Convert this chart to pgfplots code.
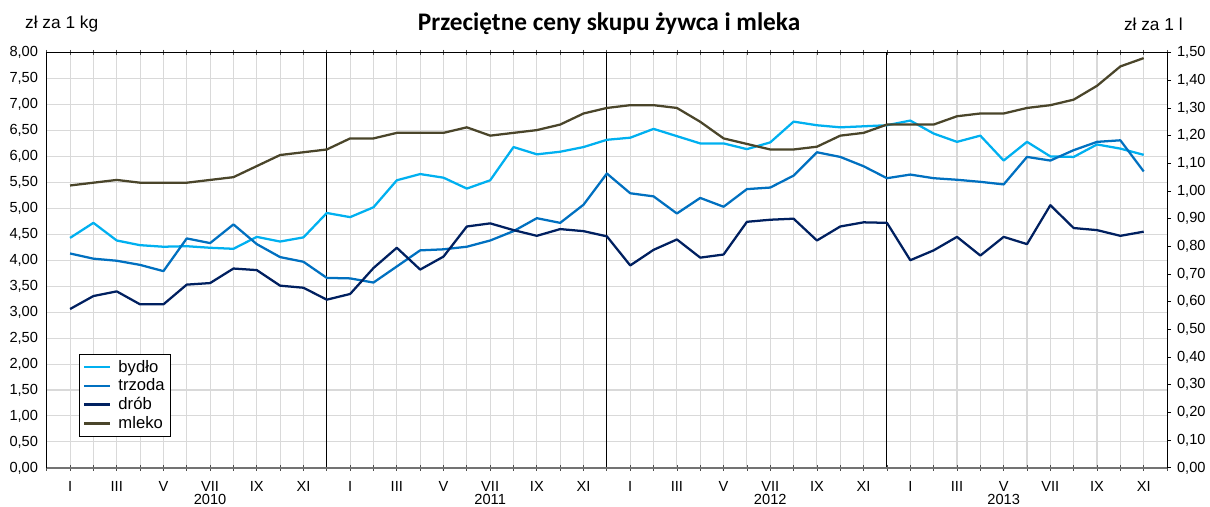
\documentclass[border=0pt]{standalone}
\usepackage{pgfplots}
\pgfplotsset{compat=1.18}
\usepackage{pgfplotstable}
\usepackage{fontspec}
\setmainfont{Liberation Sans}
\newfontfamily\titlefont{Carlito}
\definecolor{bydlo}{HTML}{00B0F0}
\definecolor{trzoda}{HTML}{0070C0}
\definecolor{drob}{HTML}{002060}
\definecolor{mleko}{HTML}{4A452A}
\definecolor{gridc}{HTML}{D9D9D9}

\pgfplotstableread{
k bydlo trzoda drob mleko
1 4.43 4.13 3.06 1.02
2 4.72 4.03 3.31 1.03
3 4.38 3.99 3.40 1.04
4 4.29 3.91 3.15 1.03
5 4.26 3.79 3.15 1.03
6 4.27 4.42 3.53 1.03
7 4.24 4.33 3.56 1.04
8 4.22 4.69 3.84 1.05
9 4.45 4.31 3.81 1.09
10 4.36 4.06 3.51 1.13
11 4.44 3.97 3.47 1.14
12 4.91 3.66 3.24 1.15
13 4.83 3.65 3.35 1.19
14 5.02 3.57 3.85 1.19
15 5.54 3.88 4.24 1.21
16 5.66 4.19 3.82 1.21
17 5.59 4.21 4.07 1.21
18 5.38 4.26 4.65 1.23
19 5.54 4.38 4.71 1.20
20 6.18 4.56 4.58 1.21
21 6.04 4.81 4.47 1.22
22 6.09 4.72 4.60 1.24
23 6.18 5.07 4.56 1.28
24 6.32 5.67 4.46 1.30
25 6.36 5.29 3.90 1.31
26 6.53 5.23 4.20 1.31
27 6.39 4.90 4.40 1.30
28 6.25 5.20 4.05 1.25
29 6.25 5.03 4.11 1.19
30 6.14 5.37 4.74 1.17
31 6.27 5.40 4.78 1.15
32 6.67 5.63 4.80 1.15
33 6.60 6.08 4.38 1.16
34 6.56 5.99 4.65 1.20
35 6.58 5.81 4.73 1.21
36 6.60 5.58 4.72 1.24
37 6.69 5.65 4.00 1.24
38 6.44 5.58 4.19 1.24
39 6.28 5.55 4.45 1.27
40 6.40 5.51 4.09 1.28
41 5.92 5.46 4.45 1.28
42 6.28 5.99 4.31 1.30
43 6.00 5.92 5.06 1.31
44 5.99 6.12 4.62 1.33
45 6.23 6.28 4.58 1.38
46 6.15 6.31 4.47 1.45
47 6.03 5.71 4.55 1.48
}\data

\begin{document}
\begin{tikzpicture}
\pgfplotsset{
  every axis/.append style={
    scale only axis, width=841.65pt, height=312pt,
    xmin=0, xmax=48,
    font=\fontsize{11}{13}\selectfont,
    /pgf/number format/fixed,
    /pgf/number format/fixed zerofill,
    /pgf/number format/precision=2,
    /pgf/number format/use comma,
    /pgf/number format/assume math mode=true,
  },
}
\begin{axis}[
  ymin=0, ymax=8,
  ytick={0,0.5,1,1.5,2,2.5,3,3.5,4,4.5,5,5.5,6,6.5,7,7.5,8},
  xtick={1,3,5,7,9,11,13,15,17,19,21,23,25,27,29,31,33,35,37,39,41,43,45,47},
  xticklabels={I,III,V,VII,IX,XI,I,III,V,VII,IX,XI,I,III,V,VII,IX,XI,I,III,V,VII,IX,XI},
  minor xtick={0,...,48},
  grid=both,
  major grid style={gridc, line width=0.8pt},
  minor grid style={gridc, line width=0.8pt},
  tick align=center,
  major tick length=4pt, minor tick length=4pt,
  tick style={black!70, line width=0.6pt},
  ytick style={draw=none},
  extra x ticks={12,24,36},
  extra x tick labels={},
  extra x tick style={grid=major, major grid style={black, line width=0.8pt}, tick style={draw=none}},
  xticklabel style={anchor=center, yshift=-11.8pt, inner sep=0pt},
  yticklabel style={xshift=-1pt},
  axis line style={black, line width=0.7pt},
  clip=false,
]
\addplot[bydlo, line width=1.7pt, line join=round] table[x=k, y=bydlo] {\data};
\addplot[trzoda, line width=1.7pt, line join=round] table[x=k, y=trzoda] {\data};
\addplot[drob, line width=1.7pt, line join=round] table[x=k, y=drob] {\data};
\draw[black!55, line width=1.3pt] (axis cs:0,0) -- (axis cs:48,0);
\node[anchor=center, inner sep=0pt, font=\fontsize{11}{13}\selectfont] at ([yshift=-23.6pt]axis cs:7,0) {2010};
\node[anchor=center, inner sep=0pt, font=\fontsize{11}{13}\selectfont] at ([yshift=-23.6pt]axis cs:19,0) {2011};
\node[anchor=center, inner sep=0pt, font=\fontsize{11}{13}\selectfont] at ([yshift=-23.6pt]axis cs:31,0) {2012};
\node[anchor=center, inner sep=0pt, font=\fontsize{11}{13}\selectfont] at ([yshift=-23.6pt]axis cs:41,0) {2013};
\end{axis}
\begin{axis}[
  ymin=0, ymax=1.5,
  axis x line=none,
  axis y line*=right,
  ytick={0,0.1,0.2,0.3,0.4,0.5,0.6,0.7,0.8,0.9,1,1.1,1.2,1.3,1.4,1.5},
  tick align=outside, major tick length=3pt,
  tick style={black, line width=0.6pt},
  axis line style={black, line width=0.7pt},
  yticklabel style={xshift=1pt},
  legend style={at={(0.029,0.0747)}, anchor=south west, draw=black, line width=0.6pt,
    font=\fontsize{12.5}{14}\selectfont, row sep=-0.5pt, column sep=3.5pt, inner sep=2.5pt},
  legend cell align=left,
  legend image code/.code={\draw[#1, line width=1.7pt] (0pt,0pt) -- (19.5pt,0pt);},
]
\addlegendimage{bydlo}
\addlegendentry{bydło}
\addlegendimage{trzoda}
\addlegendentry{trzoda}
\addlegendimage{drob}
\addlegendentry{drób}
\addplot[mleko, line width=1.7pt, line join=round] table[x=k, y=mleko] {\data};
\addlegendentry{mleko}
\end{axis}
\node[font=\titlefont\bfseries\fontsize{19}{22}\selectfont] at (422.5pt,334pt) {Przeciętne ceny skupu żywca i mleka};
\node[anchor=west, font=\fontsize{13}{15}\selectfont, inner sep=0pt] at (-16.4pt,333.5pt) {zł za 1 kg};
\node[anchor=east, font=\fontsize{13}{15}\selectfont, inner sep=0pt] at (853.6pt,333.5pt) {zł za 1 l};
\path[use as bounding box] (-35.1pt,-28.7pt) rectangle (872.4pt,351.5pt);
\end{tikzpicture}
\end{document}
